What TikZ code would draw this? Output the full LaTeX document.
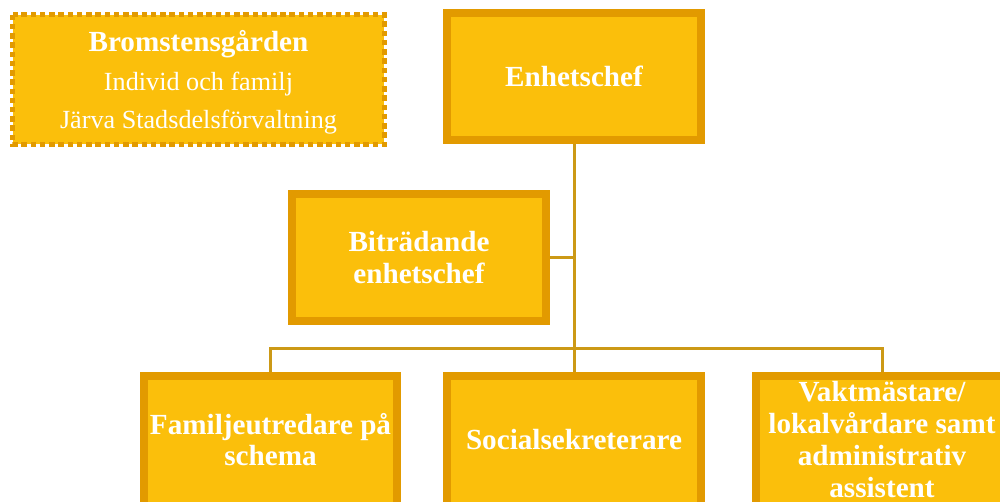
\documentclass[tikz,border=0pt]{standalone}
\usepackage{fontspec}
\setmainfont{Liberation Serif}
\usetikzlibrary{backgrounds}
\definecolor{boxfill}{RGB}{251,191,11}
\definecolor{boxline}{RGB}{226,154,0}
\definecolor{conn}{RGB}{204,153,22}
\tikzset{
  boxborder/.style={draw=boxline, fill=boxfill, line width=0.16cm},
  orgbox/.style={boxborder, minimum width=5.08cm, minimum height=2.54cm,
    inner sep=0pt, align=center, text=white, font=\fontsize{16.6}{18.1}\selectfont\bfseries},
  lowbox/.style={orgbox, draw=none, fill=none, outer sep=0pt},
  infoborder/.style={draw=boxline, fill=boxfill, line width=0.11cm, dash pattern=on 0.11cm off 0.075cm},
  infotext/.style={minimum width=7.44cm, minimum height=2.6cm, inner sep=0pt, outer sep=0pt,
    align=center, text=white, font=\fontsize{14.9}{22}\selectfont},
  connector/.style={draw=conn, line width=0.06cm}
}
\begin{document}
\begin{tikzpicture}[x=0.02cm,y=-0.02cm]
\useasboundingbox (0,0) rectangle (1000,501);
\begin{scope}
\clip (0,0) rectangle (1000,501);
\node[infotext] (info) at (198.5,82.5) {{\fontsize{16.6}{22}\selectfont\bfseries Bromstensgården}\\Individ och familj\\Järva Stadsdelsförvaltning};
\node[orgbox] (ench) at (574,76.5) {Enhetschef};
\node[orgbox] (bitr) at (419,257.5) {Biträdande\\enhetschef};
\node[lowbox] (fam) at (270.5,439.5) {Familjeutredare på\\schema};
\node[lowbox] (soc) at (574,439.5) {Socialsekreterare};
\node[lowbox, minimum width=5.04cm] (vakt) at (882,439.5) {Vaktmästare/\\lokalvårdare samt\\administrativ\\assistent};
\coordinate (bus) at (574,348);
\begin{scope}[on background layer]
\draw[infoborder] ([yshift=0.06cm]info.north west) rectangle ([yshift=0.06cm]info.south east);
\draw[connector] (ench.south) -- (soc.north);
\draw[connector] (bitr.east) -- (bitr.east -| ench.south);
\draw[connector] (fam.north) |- (vakt.north |- bus) -- (vakt.north);
\draw[boxborder] (fam.north west) rectangle ([yshift=-0.6cm]fam.south east);
\draw[boxborder] (soc.north west) rectangle ([yshift=-0.6cm]soc.south east);
\draw[boxborder] (vakt.north west) rectangle ([yshift=-0.6cm]vakt.south east);
\end{scope}
\end{scope}
\end{tikzpicture}
\end{document}
